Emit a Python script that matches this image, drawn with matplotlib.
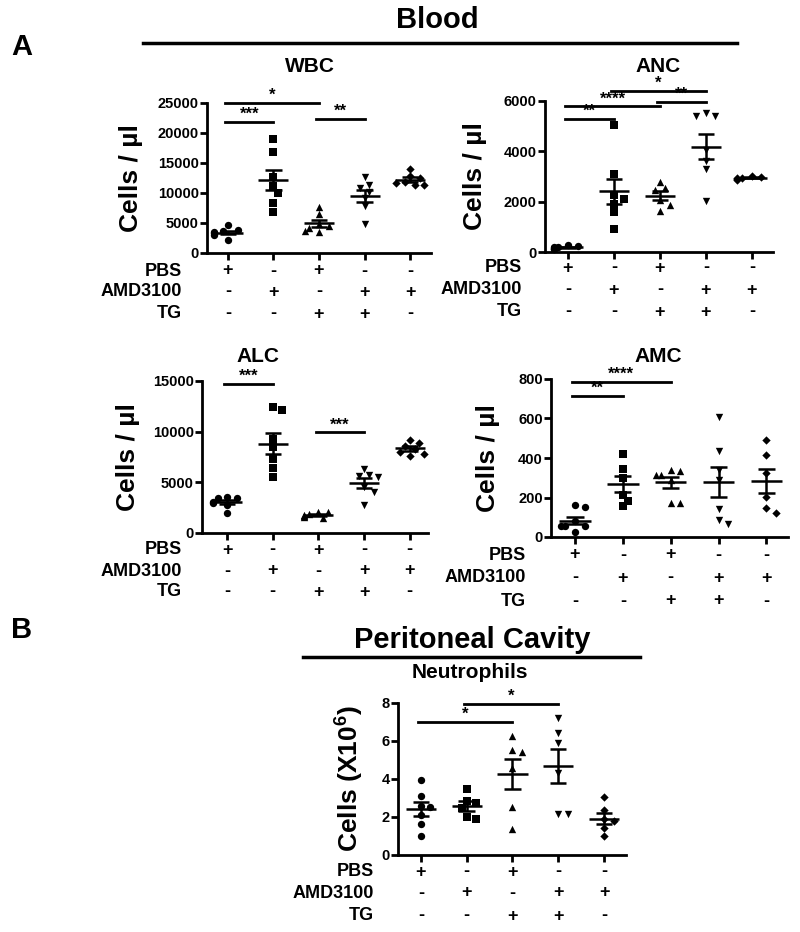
import numpy as np
import matplotlib
matplotlib.use("Agg")
import matplotlib.pyplot as plt
from matplotlib.lines import Line2D
import matplotlib.transforms as mtransforms

plt.rcParams["font.family"] = ["Liberation Sans", "DejaVu Sans"]
plt.rcParams["font.weight"] = "bold"
plt.rcParams["mathtext.fontset"] = "custom"
plt.rcParams["mathtext.rm"] = "Liberation Sans:bold"
plt.rcParams["mathtext.bf"] = "Liberation Sans:bold"

W, H = 800, 932

# ── Data ──────────────────────────────────────────────────────────────────────
row_names = ["PBS", "AMD3100", "TG"]
pbs     = ["+", "-", "+", "-", "-"]
amd3100 = ["-", "+", "-", "+", "+"]
tg      = ["-", "-", "+", "+", "-"]
markers = ["o", "s", "^", "v", "D"]

wbc = [[4600, 3800, 3500, 3300, 3600, 3000, 2100],
       [19000, 16800, 12600, 11100, 10000, 8400, 6900],
       [7700, 6500, 4800, 4500, 4200, 3500, 3700],
       [12600, 11400, 10900, 10100, 9200, 7800, 4800],
       [14000, 12800, 12500, 11900, 11700, 11400, 11300]]
anc = [[280, 250, 210, 180, 150, 120, 110],
       [5040, 3090, 2270, 2100, 1910, 1580, 920],
       [2800, 2550, 2470, 2080, 1870, 1640],
       [5530, 5420, 5400, 4050, 3600, 3300, 2030],
       [3020, 2990, 2950, 2930, 2900, 2880]]
alc = [[3600, 3500, 3450, 3100, 3000, 2800, 1970],
       [12450, 12180, 9270, 8450, 7300, 6390, 5570],
       [2100, 2050, 1900, 1800, 1700, 1600, 1500],
       [6290, 5720, 5600, 5500, 4500, 4080, 2760],
       [9200, 8900, 8600, 8300, 8000, 7800, 7600]]
amc = [[150, 162, 80, 54, 54, 57, 25],
       [421, 343, 298, 214, 155, 184],
       [315, 335, 340, 315, 290, 172, 172],
       [607, 434, 341, 291, 140, 85, 64],
       [490, 414, 324, 203, 147, 122]]
neut = [[3.97, 3.10, 2.59, 2.54, 2.10, 1.63, 1.02],
        [3.50, 2.85, 2.75, 2.50, 2.00, 1.90],
        [6.25, 5.55, 5.40, 4.60, 2.55, 1.35],
        [7.23, 6.44, 5.87, 4.29, 2.15, 2.15],
        [3.06, 2.36, 1.89, 1.79, 1.40, 1.02]]

# significance bars: (group a, group b, height, label)
wbc_sig = [(0, 2, 25000, "*"), (0, 1, 21800, "***"), (2, 3, 22300, "**")]
anc_sig = [(0, 1, 5300, "**"), (0, 2, 5790, "****"), (2, 3, 5960, "**"), (1, 3, 6400, "*")]
alc_sig = [(0, 1, 14700, "***"), (2, 3, 9940, "***")]
amc_sig = [(0, 1, 714, "**"), (0, 2, 786, "****")]
neut_sig = [(0, 2, 7.0, "*"), (1, 3, 7.97, "*")]

fig = plt.figure(figsize=(W / 100, H / 100), dpi=100)


def px_axes(x0, y0, x1, y1):
    return fig.add_axes([x0 / W, 1 - y1 / H, (x1 - x0) / W, (y1 - y0) / H])


def swarm(vals, ymax, h_px, spacing_px, d=8.0):
    ypx = np.asarray(vals, float) / ymax * h_px
    offs = np.zeros(len(vals))
    placed = []
    for i in np.argsort(-ypx):
        for k in [0, 1, -1, 2, -2, 3, -3]:
            x = k * d * 0.6
            if all((x - px) ** 2 + (ypx[i] - py) ** 2 >= (d * 0.9) ** 2 for px, py in placed):
                break
        placed.append((x, ypx[i]))
        offs[i] = x / spacing_px
    return offs


def panel(box, groups, ymax, ystep, title, title_xy, ylabel, ylab_x, sig,
          rows_y, label_right, xlim):
    x0, y0, x1, y1 = box
    ax = px_axes(*box)
    ax.set_xlim(*xlim)
    ax.set_ylim(0, ymax)
    spacing = (x1 - x0) / (xlim[1] - xlim[0])
    for i, vals in enumerate(groups):
        offs = swarm(vals, ymax, y1 - y0, spacing)
        ax.scatter(i + offs, vals, marker=markers[i], s=28 if markers[i] != "D" else 18,
                   color="black", zorder=3, clip_on=False, linewidths=0)
        m = np.mean(vals)
        sem = np.std(vals, ddof=1) / np.sqrt(len(vals))
        ax.hlines(m, i - 0.33, i + 0.33, color="black", lw=1.8, zorder=4)
        ax.vlines(i, m - sem, m + sem, color="black", lw=1.8, zorder=4)
        ax.hlines([m - sem, m + sem], i - 0.18, i + 0.18, color="black", lw=1.8, zorder=4)
    for a, b, yv, lab in sig:
        ax.plot([a - 0.06, b], [yv, yv], color="black", lw=2, clip_on=False)
        ax.text((a + b) / 2 - 0.03, yv, lab, ha="center", va="bottom", fontsize=12,
                fontweight="bold")
    ticks = np.arange(0, ymax + ystep / 2, ystep)
    ax.set_xticks(range(5))
    ax.set_xticklabels([])
    ax.set_yticks(ticks)
    ax.set_yticklabels([f"{int(v)}" for v in ticks], fontsize=10.5, fontweight="bold")
    ax.tick_params(direction="out", length=5, width=2, pad=1)
    ax.spines[["top", "right"]].set_visible(False)
    ax.spines[["left", "bottom"]].set_linewidth(2)
    ax.set_ylabel(ylabel, fontsize=19, fontweight="bold")
    ax.yaxis.set_label_coords((ylab_x - x0) / (x1 - x0), 0.5)
    fig.text(title_xy[0] / W, 1 - title_xy[1] / H, title, ha="center", va="center",
             fontsize=15, fontweight="bold")
    tr = mtransforms.blended_transform_factory(ax.transData, fig.transFigure)
    for name, syms, ry in zip(row_names, [pbs, amd3100, tg], rows_y):
        fig.text(label_right / W, 1 - ry / H, name, ha="right", va="center",
                 fontsize=13, fontweight="bold")
        for i, s in enumerate(syms):
            ax.text(i, 1 - ry / H, s, transform=tr, ha="center", va="center",
                    fontsize=13, fontweight="bold")
    return ax


panel((207, 103, 431, 253), wbc, 25000, 5000, "WBC", (310, 67),
      "Cells / µl", 143, wbc_sig, [271, 292, 314], 182, (-0.46, 4.46))
panel((545, 101, 773, 252), anc, 6000, 2000, "ANC", (658, 67),
      "Cells / µl", 487, anc_sig, [268, 290, 312], 522, (-0.5, 4.46))
panel((202, 381, 428, 533), alc, 15000, 5000, "ALC", (258, 357),
      "Cells / µl", 140, alc_sig, [550, 571, 592], 182, (-0.55, 4.4))
panel((551, 379, 788, 537), amc, 800, 200, "AMC", (658, 357),
      "Cells / µl", 500, amc_sig, [555, 578, 601], 526, (-0.5, 4.45))
panel((398, 703, 626, 855), neut, 8, 2, "Neutrophils", (470, 672),
      r"Cells (X10$^{6}$)", 365, neut_sig, [872, 893, 916], 374, (-0.5, 4.48))

# ── Section headers ──────────────────────────────────────────────────────────
fig.text(437 / W, 1 - 20 / H, "Blood", ha="center", va="center", fontsize=21, fontweight="bold")
fig.add_artist(Line2D([143 / W, 737 / W], [1 - 43 / H, 1 - 43 / H], color="black", lw=2.5))
fig.text(472 / W, 1 - 640 / H, "Peritoneal Cavity", ha="center", va="center", fontsize=21,
         fontweight="bold")
fig.add_artist(Line2D([303 / W, 640 / W], [1 - 657 / H, 1 - 657 / H], color="black", lw=2.5))
fig.text(22 / W, 1 - 47 / H, "A", ha="center", va="center", fontsize=21, fontweight="bold")
fig.text(22 / W, 1 - 630 / H, "B", ha="center", va="center", fontsize=21, fontweight="bold")

fig.savefig("out.png", dpi=100)
